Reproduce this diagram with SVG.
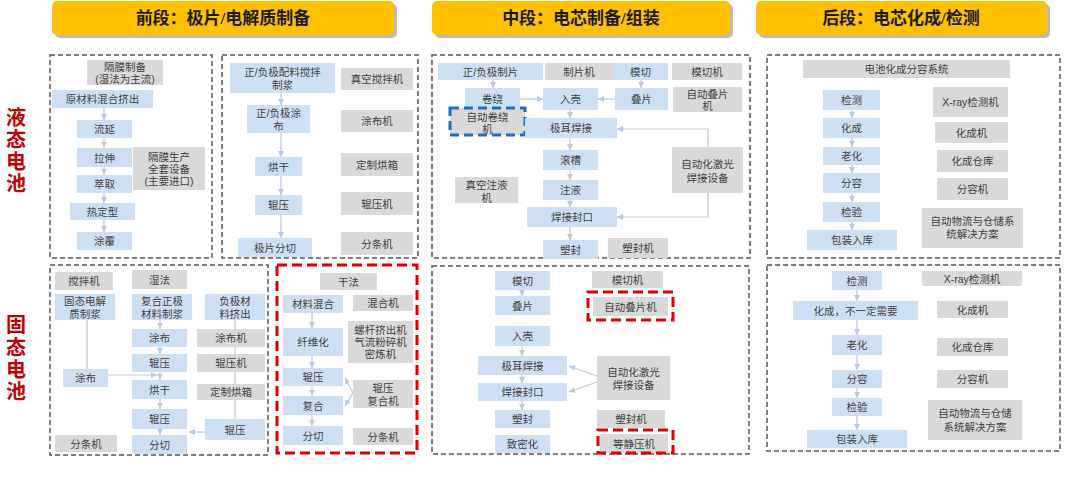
<svg xmlns="http://www.w3.org/2000/svg" width="1080" height="479" viewBox="0 0 1080 479">
<style>
.hd{fill:#ffc000}
.hs{fill:#8a8a8a;opacity:.6}
.ht{font-family:"Liberation Serif","Noto Sans CJK SC",serif;font-size:17px;font-weight:bold;fill:#1a1a1a;text-anchor:middle;dominant-baseline:central}
.side{font-family:"Liberation Serif","Noto Sans CJK SC",serif;font-size:20px;font-weight:bold;fill:#c00000;text-anchor:middle;dominant-baseline:central}
.pn{fill:none;stroke:#555;stroke-width:1.5;stroke-dasharray:5 3}
.rd{fill:none;stroke:#e00000;stroke-width:3;stroke-dasharray:10 5}
.bd{fill:none;stroke:#1f6fbf;stroke-width:3;stroke-dasharray:9 5}
.b{fill:#cde0f3}
.g{fill:#d9d9d9}
.t{font-family:"Liberation Sans","Noto Sans CJK SC",sans-serif;font-size:10.5px;fill:#404040;text-anchor:middle;dominant-baseline:central}
.c{stroke:#b7c9df;stroke-width:1.2;fill:none}
.a{marker-end:url(#ah)}
</style>
<defs>
<marker id="ah" markerUnits="userSpaceOnUse" markerWidth="7" markerHeight="7" refX="6" refY="3" orient="auto"><path d="M0,0 L6,3 L0,6 z" fill="#b7c9df"/></marker>
</defs>
<rect width="1080" height="479" fill="#ffffff"/>

<g id="headers">
<rect class="hs" x="55" y="4" width="342" height="34" rx="5"/>
<rect class="hd" x="52" y="1" width="342" height="34" rx="5"/>
<text class="ht" x="223" y="18">前段：极片/电解质制备</text>
<rect class="hs" x="435" y="4" width="298" height="34" rx="5"/>
<rect class="hd" x="432" y="1" width="298" height="34" rx="5"/>
<text class="ht" x="581" y="18">中段：电芯制备/组装</text>
<rect class="hs" x="759" y="4" width="291" height="34" rx="5"/>
<rect class="hd" x="756" y="1" width="291" height="34" rx="5"/>
<text class="ht" x="901" y="18">后段：电芯化成/检测</text>
</g>

<g id="side-labels">
<text class="side" x="16" y="118">液</text>
<text class="side" x="16" y="140">态</text>
<text class="side" x="16" y="162">电</text>
<text class="side" x="16" y="184">池</text>
<text class="side" x="16" y="325">固</text>
<text class="side" x="16" y="348">态</text>
<text class="side" x="16" y="370">电</text>
<text class="side" x="16" y="392">池</text>
</g>

<g id="panels">
<rect class="pn" x="50" y="55" width="162" height="203"/>
<rect class="pn" x="222" y="55" width="196" height="203"/>
<rect class="pn" x="50" y="265" width="218" height="190"/>
<rect class="pn" x="432" y="55" width="318" height="203"/>
<rect class="pn" x="432" y="266" width="317" height="188"/>
<rect class="pn" x="767" y="55" width="293" height="203"/>
<rect class="pn" x="767" y="265" width="293" height="186"/>
<rect class="rd" x="277" y="265" width="140" height="188"/>
</g>

<g id="connectors">
<path class="c a" d="M104,108 V120"/><path class="c a" d="M104,138 V148"/><path class="c a" d="M104,167 V175"/><path class="c a" d="M104,193 V203"/><path class="c a" d="M104,220 V232"/>
<path class="c a" d="M281,93 V105"/><path class="c a" d="M281,133 V157"/><path class="c a" d="M281,176 V195"/><path class="c a" d="M281,215 V238"/>
<path class="c a" d="M160,320 V329"/><path class="c a" d="M160,347 V354"/><path class="c a" d="M160,372 V380"/><path class="c a" d="M160,399 V409"/><path class="c a" d="M160,429 V435"/>
<path class="c" d="M87,320 V369"/><path class="c a" d="M108,375 H157"/>
<path class="c" d="M235,320 V419"/><path class="c a" d="M205,432 H189"/>
<path class="c a" d="M312,313 V328"/><path class="c a" d="M312,356 V368"/><path class="c a" d="M312,386 V396"/><path class="c a" d="M312,415 V426"/>
<path class="c a" d="M353,393 L345,378"/><path class="c a" d="M353,393 L345,406"/>
<path class="c a" d="M493,80 V88"/><path class="c a" d="M641,80 V88"/><path class="c a" d="M520,99 H543"/><path class="c a" d="M615,99 H598"/>
<path class="c a" d="M570,110 V118"/><path class="c a" d="M570,138 V150"/><path class="c a" d="M570,170 V180"/><path class="c a" d="M570,200 V207"/><path class="c a" d="M570,227 V240"/>
<path class="c a" d="M708,147 V129 H617"/><path class="c a" d="M708,193 V217 H617"/>
<path class="c a" d="M522,290 V296"/><path class="c a" d="M522,346 V356"/><path class="c a" d="M522,375 V383"/><path class="c a" d="M522,401 V410"/>
<path class="c a" d="M597,376 L569,366"/><path class="c a" d="M597,382 L569,392"/>
<path class="c a" d="M852,110 V118"/><path class="c a" d="M852,138 V147"/><path class="c a" d="M852,165 V173"/><path class="c a" d="M852,193 V202"/><path class="c a" d="M852,222 V230"/>
<path class="c a" d="M857,290 V301"/><path class="c a" d="M857,320 V335"/><path class="c a" d="M857,355 V370"/><path class="c a" d="M857,388 V398"/><path class="c a" d="M857,416 V430"/>
</g>

<g id="p1-title"><rect class="g" x="87" y="60" width="76" height="25"/><text class="t" x="125" y="66.5">隔膜制备</text><text class="t" x="125" y="78.5">(湿法为主流)</text></g>
<g id="p1-mix"><rect class="b" x="52" y="90" width="101" height="18"/><text class="t" x="102.5" y="99">原材料混合挤出</text></g>
<g id="p1-cast"><rect class="b" x="77" y="120" width="55" height="18"/><text class="t" x="104.5" y="129">流延</text></g>
<g id="p1-stretch"><rect class="b" x="77" y="148" width="55" height="19"/><text class="t" x="104.5" y="157.5">拉伸</text></g>
<g id="p1-extract"><rect class="b" x="77" y="175" width="55" height="18"/><text class="t" x="104.5" y="184">萃取</text></g>
<g id="p1-heat"><rect class="b" x="70" y="203" width="65" height="17"/><text class="t" x="102.5" y="211.5">热定型</text></g>
<g id="p1-coat"><rect class="b" x="77" y="232" width="55" height="18"/><text class="t" x="104.5" y="241">涂覆</text></g>
<g id="p1-equip"><rect class="g" x="133" y="147" width="72" height="43"/><text class="t" x="169" y="156.5">隔膜生产</text><text class="t" x="169" y="168.5">全套设备</text><text class="t" x="169" y="180.5">(主要进口)</text></g>

<g id="p2-slurry"><rect class="b" x="230" y="63" width="105" height="30"/><text class="t" x="282.5" y="72">正/负极配料搅拌</text><text class="t" x="282.5" y="85">制浆</text></g>
<g id="p2-slurry-m"><rect class="g" x="341" y="68" width="72" height="22"/><text class="t" x="377" y="79">真空搅拌机</text></g>
<g id="p2-coat"><rect class="b" x="247" y="105" width="63" height="28"/><text class="t" x="278.5" y="113">正/负极涂</text><text class="t" x="278.5" y="126">布</text></g>
<g id="p2-coat-m"><rect class="g" x="341" y="110" width="72" height="22"/><text class="t" x="377" y="121">涂布机</text></g>
<g id="p2-dry"><rect class="b" x="255" y="157" width="47" height="19"/><text class="t" x="278.5" y="166.5">烘干</text></g>
<g id="p2-dry-m"><rect class="g" x="341" y="153" width="72" height="23"/><text class="t" x="377" y="164.5">定制烘箱</text></g>
<g id="p2-roll"><rect class="b" x="255" y="195" width="47" height="20"/><text class="t" x="278.5" y="205">辊压</text></g>
<g id="p2-roll-m"><rect class="g" x="341" y="192" width="72" height="23"/><text class="t" x="377" y="203.5">辊压机</text></g>
<g id="p2-cut"><rect class="b" x="238" y="238" width="74" height="19"/><text class="t" x="275" y="247.5">极片分切</text></g>
<g id="p2-cut-m"><rect class="g" x="341" y="232" width="72" height="23"/><text class="t" x="377" y="243.5">分条机</text></g>

<g id="s1-mixer"><rect class="g" x="55" y="272" width="58" height="18"/><text class="t" x="84" y="281">搅拌机</text></g>
<g id="s1-wet"><rect class="g" x="132" y="270" width="55" height="19"/><text class="t" x="159.5" y="279.5">湿法</text></g>
<g id="s1-sse"><rect class="b" x="55" y="294" width="60" height="26"/><text class="t" x="85" y="301">固态电解</text><text class="t" x="85" y="313.5">质制浆</text></g>
<g id="s1-cath"><rect class="b" x="132" y="294" width="60" height="26"/><text class="t" x="162" y="301">复合正极</text><text class="t" x="162" y="313.5">材料制浆</text></g>
<g id="s1-anode"><rect class="b" x="205" y="294" width="60" height="26"/><text class="t" x="235" y="301">负极材</text><text class="t" x="235" y="313.5">料挤出</text></g>
<g id="s1-coat"><rect class="b" x="132" y="329" width="55" height="18"/><text class="t" x="159.5" y="338">涂布</text></g>
<g id="s1-coat-m"><rect class="g" x="197" y="329" width="68" height="18"/><text class="t" x="231" y="338">涂布机</text></g>
<g id="s1-roll"><rect class="b" x="132" y="354" width="55" height="18"/><text class="t" x="159.5" y="363">辊压</text></g>
<g id="s1-roll-m"><rect class="g" x="197" y="354" width="68" height="18"/><text class="t" x="231" y="363">辊压机</text></g>
<g id="s1-coat2"><rect class="b" x="63" y="369" width="45" height="18"/><text class="t" x="85.5" y="378">涂布</text></g>
<g id="s1-dry"><rect class="b" x="132" y="380" width="55" height="19"/><text class="t" x="159.5" y="389.5">烘干</text></g>
<g id="s1-dry-m"><rect class="g" x="197" y="384" width="68" height="16"/><text class="t" x="231" y="392">定制烘箱</text></g>
<g id="s1-roll2"><rect class="b" x="132" y="409" width="55" height="20"/><text class="t" x="159.5" y="419">辊压</text></g>
<g id="s1-roll3"><rect class="b" x="205" y="419" width="60" height="21"/><text class="t" x="235" y="429.5">辊压</text></g>
<g id="s1-slit-m"><rect class="g" x="55" y="435" width="62" height="17"/><text class="t" x="86" y="443.5">分条机</text></g>
<g id="s1-cut"><rect class="b" x="132" y="435" width="55" height="19"/><text class="t" x="159.5" y="444.5">分切</text></g>

<g id="d-title"><rect class="g" x="320" y="273" width="57" height="17"/><text class="t" x="348.5" y="281.5">干法</text></g>
<g id="d-mix"><rect class="b" x="283" y="295" width="60" height="18"/><text class="t" x="313" y="304">材料混合</text></g>
<g id="d-mix-m"><rect class="g" x="353" y="295" width="60" height="16"/><text class="t" x="383" y="303">混合机</text></g>
<g id="d-fib"><rect class="b" x="283" y="328" width="60" height="28"/><text class="t" x="313" y="342">纤维化</text></g>
<g id="d-fib-m"><rect class="g" x="348" y="321" width="65" height="42"/><text class="t" x="380.5" y="330">螺杆挤出机</text><text class="t" x="380.5" y="342">气流粉碎机</text><text class="t" x="380.5" y="354">密炼机</text></g>
<g id="d-roll"><rect class="b" x="283" y="368" width="60" height="18"/><text class="t" x="313" y="377">辊压</text></g>
<g id="d-comp"><rect class="b" x="283" y="396" width="60" height="19"/><text class="t" x="313" y="405.5">复合</text></g>
<g id="d-rc-m"><rect class="g" x="353" y="380" width="60" height="28"/><text class="t" x="383" y="388">辊压</text><text class="t" x="383" y="401">复合机</text></g>
<g id="d-cut"><rect class="b" x="283" y="426" width="60" height="19"/><text class="t" x="313" y="435.5">分切</text></g>
<g id="d-cut-m"><rect class="g" x="353" y="428" width="60" height="17"/><text class="t" x="383" y="436.5">分条机</text></g>

<g id="m1-sheet"><rect class="b" x="438" y="63" width="105" height="17"/><text class="t" x="490.5" y="71.5">正/负极制片</text></g>
<g id="m1-sheet-m"><rect class="g" x="545" y="63" width="68" height="17"/><text class="t" x="579" y="71.5">制片机</text></g>
<g id="m1-die"><rect class="b" x="613" y="63" width="55" height="17"/><text class="t" x="640.5" y="71.5">模切</text></g>
<g id="m1-die-m"><rect class="g" x="672" y="63" width="70" height="17"/><text class="t" x="707" y="71.5">模切机</text></g>
<g id="m1-wind"><rect class="b" x="465" y="88" width="55" height="22"/><text class="t" x="492.5" y="99">卷绕</text></g>
<g id="m1-case"><rect class="b" x="543" y="88" width="55" height="22"/><text class="t" x="570.5" y="99">入壳</text></g>
<g id="m1-stack"><rect class="b" x="615" y="88" width="53" height="22"/><text class="t" x="641.5" y="99">叠片</text></g>
<g id="m1-stack-m"><rect class="g" x="673" y="87" width="69" height="25"/><text class="t" x="707.5" y="93.5">自动叠片</text><text class="t" x="707.5" y="106">机</text></g>
<g id="m1-wind-m"><rect class="g" x="450" y="108" width="75" height="27"/><text class="t" x="487.5" y="116.5">自动卷绕</text><text class="t" x="487.5" y="129">机</text><rect class="bd" x="450" y="108" width="75" height="27"/></g>
<g id="m1-tab"><rect class="b" x="525" y="118" width="92" height="20"/><text class="t" x="571" y="128">极耳焊接</text></g>
<g id="m1-groove"><rect class="b" x="543" y="150" width="55" height="20"/><text class="t" x="570.5" y="160">滚槽</text></g>
<g id="m1-laser"><rect class="g" x="672" y="147" width="71" height="46"/><text class="t" x="707.5" y="164">自动化激光</text><text class="t" x="707.5" y="178">焊接设备</text></g>
<g id="m1-fill-m"><rect class="g" x="455" y="177" width="63" height="26"/><text class="t" x="486.5" y="185">真空注液</text><text class="t" x="486.5" y="198">机</text></g>
<g id="m1-fill"><rect class="b" x="543" y="180" width="55" height="20"/><text class="t" x="570.5" y="190">注液</text></g>
<g id="m1-seal"><rect class="b" x="527" y="207" width="90" height="20"/><text class="t" x="572" y="217">焊接封口</text></g>
<g id="m1-plastic"><rect class="b" x="543" y="240" width="55" height="19"/><text class="t" x="570.5" y="249.5">塑封</text></g>
<g id="m1-plastic-m"><rect class="g" x="608" y="238" width="60" height="20"/><text class="t" x="638" y="248">塑封机</text></g>

<g id="m2-die"><rect class="b" x="495" y="271" width="55" height="19"/><text class="t" x="522.5" y="280.5">模切</text></g>
<g id="m2-die-m"><rect class="g" x="592" y="271" width="71" height="17"/><text class="t" x="627.5" y="279.5">模切机</text></g>
<g id="m2-stack"><rect class="b" x="495" y="296" width="55" height="19"/><text class="t" x="522.5" y="305.5">叠片</text></g>
<g id="m2-stack-m"><rect class="g" x="593" y="297" width="75" height="19"/><text class="t" x="630.5" y="306.5">自动叠片机</text><rect class="rd" x="588" y="292" width="85" height="28"/></g>
<g id="m2-case"><rect class="b" x="495" y="326" width="55" height="20"/><text class="t" x="522.5" y="336">入壳</text></g>
<g id="m2-tab"><rect class="b" x="478" y="356" width="89" height="19"/><text class="t" x="522.5" y="365.5">极耳焊接</text></g>
<g id="m2-seal"><rect class="b" x="478" y="383" width="89" height="18"/><text class="t" x="522.5" y="392">焊接封口</text></g>
<g id="m2-laser"><rect class="g" x="597" y="356" width="73" height="44"/><text class="t" x="633.5" y="372">自动化激光</text><text class="t" x="633.5" y="385">焊接设备</text></g>
<g id="m2-plastic"><rect class="b" x="495" y="410" width="55" height="18"/><text class="t" x="522.5" y="419">塑封</text></g>
<g id="m2-plastic-m"><rect class="g" x="597" y="410" width="68" height="18"/><text class="t" x="631" y="419">塑封机</text></g>
<g id="m2-dense"><rect class="b" x="495" y="435" width="55" height="18"/><text class="t" x="522.5" y="444">致密化</text></g>
<g id="m2-iso-m"><rect class="g" x="600" y="434" width="68" height="19"/><text class="t" x="634" y="443.5">等静压机</text><rect class="rd" x="598" y="430" width="75" height="23"/></g>

<g id="r1-title"><rect class="g" x="803" y="60" width="207" height="18"/><text class="t" x="906.5" y="69">电池化成分容系统</text></g>
<g id="r1-test"><rect class="b" x="823" y="90" width="57" height="20"/><text class="t" x="851.5" y="100">检测</text></g>
<g id="r1-form"><rect class="b" x="823" y="118" width="57" height="20"/><text class="t" x="851.5" y="128">化成</text></g>
<g id="r1-age"><rect class="b" x="823" y="147" width="57" height="18"/><text class="t" x="851.5" y="156">老化</text></g>
<g id="r1-grade"><rect class="b" x="823" y="173" width="57" height="20"/><text class="t" x="851.5" y="183">分容</text></g>
<g id="r1-inspect"><rect class="b" x="823" y="202" width="57" height="20"/><text class="t" x="851.5" y="212">检验</text></g>
<g id="r1-pack"><rect class="b" x="807" y="230" width="90" height="20"/><text class="t" x="852" y="240">包装入库</text></g>
<g id="r1-xray"><rect class="g" x="933" y="87" width="75" height="30"/><text class="t" x="970.5" y="102">X-ray检测机</text></g>
<g id="r1-form-m"><rect class="g" x="935" y="122" width="73" height="21"/><text class="t" x="971.5" y="132.5">化成机</text></g>
<g id="r1-store"><rect class="g" x="937" y="150" width="71" height="22"/><text class="t" x="972.5" y="161">化成仓库</text></g>
<g id="r1-grade-m"><rect class="g" x="937" y="178" width="71" height="22"/><text class="t" x="972.5" y="189">分容机</text></g>
<g id="r1-logi"><rect class="g" x="922" y="208" width="101" height="40"/><text class="t" x="972.5" y="221">自动物流与仓储系</text><text class="t" x="972.5" y="234">统解决方案</text></g>

<g id="r2-test"><rect class="b" x="832" y="271" width="50" height="19"/><text class="t" x="857" y="280.5">检测</text></g>
<g id="r2-xray"><rect class="g" x="922" y="271" width="100" height="15"/><text class="t" x="972" y="278.5">X-ray检测机</text></g>
<g id="r2-form"><rect class="b" x="793" y="301" width="125" height="19"/><text class="t" x="855.5" y="310.5">化成，不一定需要</text></g>
<g id="r2-form-m"><rect class="g" x="937" y="301" width="71" height="17"/><text class="t" x="972.5" y="309.5">化成机</text></g>
<g id="r2-age"><rect class="b" x="832" y="335" width="50" height="20"/><text class="t" x="857" y="345">老化</text></g>
<g id="r2-store"><rect class="g" x="937" y="338" width="71" height="18"/><text class="t" x="972.5" y="347">化成仓库</text></g>
<g id="r2-grade"><rect class="b" x="832" y="370" width="50" height="18"/><text class="t" x="857" y="379">分容</text></g>
<g id="r2-grade-m"><rect class="g" x="937" y="370" width="71" height="18"/><text class="t" x="972.5" y="379">分容机</text></g>
<g id="r2-inspect"><rect class="b" x="832" y="398" width="50" height="18"/><text class="t" x="857" y="407">检验</text></g>
<g id="r2-logi"><rect class="g" x="928" y="400" width="94" height="40"/><text class="t" x="975" y="413">自动物流与仓储</text><text class="t" x="975" y="427">系统解决方案</text></g>
<g id="r2-pack"><rect class="b" x="807" y="430" width="100" height="18"/><text class="t" x="857" y="439">包装入库</text></g>
</svg>
